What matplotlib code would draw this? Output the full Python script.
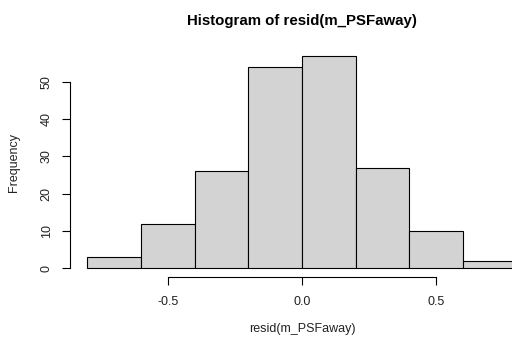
import numpy as np
import matplotlib
matplotlib.use("Agg")
import matplotlib.pyplot as plt

# histogram of residuals, bins of width 0.2
bin_edges = [-0.8, -0.6, -0.4, -0.2, 0.0, 0.2, 0.4, 0.6, 0.8]
counts = [3, 12, 26, 54, 57, 27, 10, 2]
x_ticks = [-0.5, 0.0, 0.5]
y_ticks = [0, 10, 20, 30, 40, 50]

plt.rcParams['font.family'] = ['Liberation Sans', 'DejaVu Sans']

fig = plt.figure(figsize=(5.12, 3.44), dpi=100)
# plot region runs past the right edge, like the cropped original
ax = fig.add_axes([70 / 512, 1 - 277 / 344, 464 / 512, 230 / 344])

lefts = bin_edges[:-1]
widths = np.diff(bin_edges)
ax.bar(lefts, counts, width=widths, align='edge', color='#d3d3d3',
       edgecolor='black', linewidth=0.8)

ax.set_xlim(-0.864, 0.864)
ax.set_ylim(-0.04 * max(counts), 1.04 * max(counts))

for s in ['top', 'right']:
    ax.spines[s].set_visible(False)
ax.spines['bottom'].set_bounds(x_ticks[0], x_ticks[-1])
ax.spines['left'].set_bounds(y_ticks[0], y_ticks[-1])
ax.spines['bottom'].set_linewidth(0.8)
ax.spines['left'].set_linewidth(0.8)

ax.set_xticks(x_ticks)
ax.set_xticklabels(['-0.5', '0.0', '0.5'])
ax.set_yticks(y_ticks)
ax.set_yticklabels([str(v) for v in y_ticks], rotation=90, va='center')
ax.tick_params(axis='both', length=6, width=0.8, labelsize=9, labelcolor='#222222')
ax.tick_params(axis='x', pad=7.5)
ax.tick_params(axis='y', pad=6.5)

ax.set_title('Histogram of resid(m_PSFaway)', fontsize=10.8,
             fontweight='bold', pad=16)
ax.set_xlabel('resid(m_PSFaway)', fontsize=9, labelpad=11, color='#222222')
ax.set_ylabel('Frequency', fontsize=9, labelpad=15, color='#222222')

fig.savefig('out.png', dpi=100)
